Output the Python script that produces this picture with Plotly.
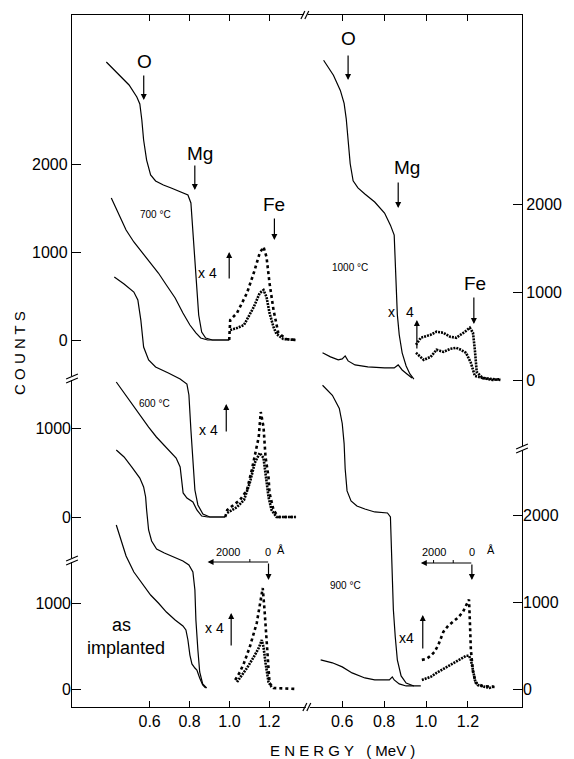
import plotly.graph_objects as go

# ---------------- data (energy in MeV, counts) ----------------
# 700 °C (left, top)
e700_r = [0.383,0.423,0.497,0.536,0.551,0.561,0.570,0.585,0.605,0.630,0.669,0.708,0.753,0.792,0.807,0.817,0.832,0.846,0.861,0.881,0.915,0.999]
c700_r = [3159,3068,2898,2761,2682,2500,2273,2045,1875,1807,1761,1727,1682,1648,1557,1216,648,284,91,23,0,0]
e700_a = [0.408,0.447,0.482,0.521,0.561,0.605,0.644,0.684,0.728,0.767,0.802,0.832,0.856,0.891,0.999]
c700_a = [1614,1420,1250,1114,1000,875,761,625,477,307,170,80,23,0,0]
e700_fe_r = [0.999,1.004,1.038,1.088,1.122,1.152,1.171,1.186,1.201,1.221,1.245,1.285,1.334]
c700_fe_r = [0,227,307,534,761,989,1057,943,648,341,80,11,0]
e700_fe_a = [1.004,1.038,1.073,1.102,1.122,1.152,1.171,1.186,1.201,1.221,1.236,1.270,1.334]
c700_fe_a = [114,136,170,284,375,534,568,489,307,148,68,11,0]

# 600 °C (left, middle)
e600_r = [0.423,0.472,0.521,0.541,0.556,0.570,0.595,0.630,0.694,0.753,0.787,0.797,0.807,0.817,0.827,0.842,0.867,0.902,0.979]
c600_r = [2697,2618,2528,2438,2213,1910,1764,1685,1618,1551,1494,1371,978,584,303,135,34,0,0]
e600_a = [0.433,0.472,0.511,0.556,0.595,0.634,0.679,0.718,0.733,0.753,0.768,0.787,0.817,0.837,0.861,0.891,0.979]
c600_a = [1517,1393,1281,1124,1011,899,787,697,663,562,270,213,169,79,11,0,0]
e600_fe_r = [0.979,0.989,1.053,1.088,1.112,1.127,1.147,1.157,1.171,1.181,1.196,1.201,1.221,1.245,1.334]
c600_fe_r = [0,79,191,303,528,674,899,1180,1011,674,449,270,79,0,0]
e600_fe_a = [0.989,1.038,1.073,1.102,1.127,1.152,1.171,1.181,1.196,1.211,1.236,1.334]
c600_fe_a = [45,112,191,382,607,719,663,494,225,79,0,0]

# as implanted (left, bottom)
eimp_r = [0.433,0.472,0.511,0.551,0.570,0.580,0.585,0.595,0.610,0.635,0.674,0.718,0.767,0.797,0.817,0.827,0.832,0.842,0.851,0.866,0.886]
cimp_r = [2779,2698,2581,2453,2349,2233,2081,1849,1721,1628,1581,1535,1488,1442,1360,1151,802,453,198,58,12]
eimp_a = [0.433,0.457,0.482,0.521,0.561,0.605,0.644,0.684,0.728,0.767,0.782,0.792,0.802,0.812,0.827,0.837,0.851,0.866,0.881]
cimp_a = [1907,1733,1547,1360,1233,1093,1000,895,802,733,686,570,395,291,244,221,128,47,12]
eimp_fe_r = [1.029,1.053,1.073,1.102,1.137,1.152,1.167,1.176,1.186,1.196,1.201,1.221,1.334]
cimp_fe_r = [105,198,302,488,767,1000,1174,919,605,337,70,12,0]
eimp_fe_a = [1.038,1.088,1.122,1.147,1.162,1.171,1.181,1.196,1.211]
cimp_fe_a = [81,244,372,477,570,488,302,81,23]

# 1000 °C (right, top)
e1000_r = [0.511,0.558,0.591,0.609,0.619,0.628,0.638,0.652,0.675,0.708,0.755,0.802,0.830,0.848,0.853,0.858,0.863,0.872,0.886,0.905,0.923,0.942]
c1000_r = [3634,3463,3291,3143,2971,2686,2457,2263,2183,2114,2023,1897,1760,1646,1371,1029,743,514,309,160,69,11]
e1000_a = [0.506,0.544,0.581,0.600,0.614,0.628,0.661,0.722,0.802,0.848,0.867,0.886,0.909,0.933]
c1000_a = [309,263,229,240,274,217,171,149,137,137,171,114,69,23]
e1000_fe_r = [0.952,0.975,1.022,1.050,1.083,1.116,1.144,1.167,1.186,1.209,1.224,1.233,1.242,1.270,1.317,1.355]
c1000_fe_r = [400,480,514,549,537,491,480,514,549,594,537,343,91,23,0,11]
e1000_fe_a = [0.952,0.989,1.022,1.050,1.083,1.116,1.144,1.167,1.191,1.214,1.233,1.270,1.317,1.355]
c1000_fe_a = [309,229,263,343,320,354,366,343,309,194,46,23,11,0]

# 900 °C (right, bottom)
e900_r = [0.506,0.553,0.586,0.600,0.609,0.614,0.623,0.642,0.670,0.708,0.755,0.816,0.830,0.834,0.839,0.844,0.853,0.863,0.881,0.905,0.942]
c900_r = [3491,3376,3225,3052,2821,2532,2277,2162,2104,2069,2035,2023,1977,1723,1260,913,601,335,150,69,35]
e900_a = [0.497,0.553,0.600,0.647,0.708,0.755,0.825,0.839,0.848,0.872,0.905,0.975]
c900_a = [335,301,254,185,127,104,104,139,104,58,35,35]
e900_fe_r = [0.980,1.003,1.022,1.041,1.059,1.083,1.106,1.130,1.153,1.177,1.195,1.205,1.209,1.214,1.224,1.238,1.270,1.327]
c900_fe_r = [335,347,382,428,509,659,728,775,821,890,983,1029,798,451,197,69,35,23]
e900_fe_a = [0.980,1.003,1.022,1.050,1.083,1.116,1.144,1.167,1.191,1.205,1.214,1.224,1.233,1.247,1.303,1.327]
c900_fe_a = [104,127,139,185,231,277,324,347,382,382,335,220,104,46,12,35]

energy_ticks = [0.6, 0.8, 1.0, 1.2]
energy_labels = ["0.6", "0.8", "1.0", "1.2"]

# ---------------- layout geometry (pixels) ----------------
W, H = 574, 759
L, R, T, B = 72, 530, 15, 707
XSPLIT = 311
FONT = "Liberation Sans, Arial, sans-serif"

def pxx(x):
    return (x - L) / (R - L)

def pxy(y):
    return (B - y) / (B - T)

def yrange(p0, p1000):
    k = (p0 - p1000) / 1000.0
    return [-(B - p0) / k, (p0 - T) / k]

fig = go.Figure()

def solid(x, y, xa, ya):
    fig.add_trace(go.Scatter(x=x, y=y, mode="lines", xaxis=xa, yaxis=ya,
                             line=dict(color="black", width=1.2), hoverinfo="skip",
                             showlegend=False))

def dotted(x, y, xa, ya, dense=False):
    fig.add_trace(go.Scatter(x=x, y=y, mode="lines", xaxis=xa, yaxis=ya,
                             line=dict(color="black", width=2.6,
                                       dash="2px,1px" if dense else "dot"),
                             hoverinfo="skip", showlegend=False))

solid(e700_r, c700_r, "x", "y"); solid(e700_a, c700_a, "x", "y")
dotted(e700_fe_r, c700_fe_r, "x", "y"); dotted(e700_fe_a, c700_fe_a, "x", "y", True)
solid(e600_r, c600_r, "x", "y2"); solid(e600_a, c600_a, "x", "y2")
dotted(e600_fe_r, c600_fe_r, "x", "y2"); dotted(e600_fe_a, c600_fe_a, "x", "y2", True)
solid(eimp_r, cimp_r, "x", "y3"); solid(eimp_a, cimp_a, "x", "y3")
dotted(eimp_fe_r, cimp_fe_r, "x", "y3"); dotted(eimp_fe_a, cimp_fe_a, "x", "y3", True)
solid(e1000_r, c1000_r, "x2", "y4"); solid(e1000_a, c1000_a, "x2", "y4")
dotted(e1000_fe_r, c1000_fe_r, "x2", "y4", True); dotted(e1000_fe_a, c1000_fe_a, "x2", "y4", True)
solid(e900_r, c900_r, "x2", "y5"); solid(e900_a, c900_a, "x2", "y5")
dotted(e900_fe_r, c900_fe_r, "x2", "y5"); dotted(e900_fe_a, c900_fe_a, "x2", "y5", True)

tickfont = dict(family=FONT, size=16, color="black")
xcommon = dict(tickvals=energy_ticks, ticktext=energy_labels, ticks="inside", ticklen=6,
               tickwidth=1.2, tickcolor="black", showline=True, linecolor="black",
               linewidth=1.3, mirror="ticks", showgrid=False, zeroline=False,
               tickfont=tickfont)
ycommon = dict(domain=[0, 1], ticks="inside", ticklen=9, tickwidth=1.2, tickcolor="black",
               showgrid=False, zeroline=False, linecolor="black", linewidth=1.3,
               tickfont=tickfont)
xs = (XSPLIT - L) / (R - L)

fig.update_layout(
    width=W, height=H, margin=dict(l=L, r=W - R, t=T, b=H - B),
    paper_bgcolor="white", plot_bgcolor="rgba(0,0,0,0)", showlegend=False,
    xaxis=dict(domain=[0, xs], range=[0.211, 1.388], anchor="y", **xcommon),
    xaxis2=dict(domain=[xs, 1], range=[0.431, 1.458], anchor="y4", **xcommon),
    yaxis=dict(anchor="x", range=yrange(340, 252), tickvals=[0, 1000, 2000],
               showline=True, **ycommon),
    yaxis2=dict(anchor="x", range=yrange(517, 428), tickvals=[0, 1000],
                showline=False, **ycommon),
    yaxis3=dict(anchor="x", range=yrange(689, 603), tickvals=[0, 1000],
                showline=False, **ycommon),
    yaxis4=dict(anchor="x2", side="right", range=yrange(380, 292), tickvals=[0, 1000, 2000],
                showline=True, **ycommon),
    yaxis5=dict(anchor="x2", side="right", range=yrange(689, 602), tickvals=[0, 1000, 2000],
                showline=False, **ycommon),
)

# ---------------- axis breaks ----------------
shapes = []

def seg(x0, y0, x1, y1, w=1.2):
    shapes.append(dict(type="line", xref="paper", yref="paper", x0=pxx(x0), y0=pxy(y0),
                       x1=pxx(x1), y1=pxy(y1), line=dict(color="black", width=w),
                       layer="above"))

def white(x0, y0, x1, y1):
    shapes.append(dict(type="rect", xref="paper", yref="paper", x0=pxx(x0), y0=pxy(y0),
                       x1=pxx(x1), y1=pxy(y1), line=dict(width=0), fillcolor="white",
                       layer="above"))

def vbreak(x, y):
    white(x - 2, y - 2, x + 2, y + 2)
    seg(x - 6, y + 1, x + 6, y - 4)
    seg(x - 6, y + 5, x + 6, y)

def hbreak(x, y):
    white(x - 2, y - 2, x + 2, y + 2)
    seg(x - 5, y + 4, x - 1, y - 4)
    seg(x - 1, y + 4, x + 3, y - 4)

vbreak(L, 378); vbreak(L, 560); vbreak(R, 448)
hbreak(310, T); hbreak(312, B)

# depth scale small ticks
for tx, ty in [(253, 562), (440, 563), (460, 563)]:
    seg(tx, ty, tx, ty - 3, 1)

fig.update_layout(shapes=shapes)

# ---------------- annotations ----------------
ann = []

def text(x, y, s, size, angle=0):
    ann.append(dict(x=pxx(x), y=pxy(y), xref="paper", yref="paper", text=s, showarrow=False,
                    xanchor="center", yanchor="middle", textangle=angle,
                    font=dict(family=FONT, size=size, color="black")))

def arrow(x0, y0, x1, y1, head=2):
    # from tail (x0,y0) to head (x1,y1), pixels
    ann.append(dict(x=pxx(x1), y=pxy(y1), xref="paper", yref="paper", text="",
                    showarrow=True, ax=x0 - x1, ay=y0 - y1, axref="pixel", ayref="pixel",
                    arrowhead=head, arrowsize=1, arrowwidth=1.2, arrowcolor="black"))

# left top
text(146, 61, "O", 19); arrow(145, 74, 145, 100)
text(202, 153, "Mg", 19); arrow(197, 164, 197, 190)
text(278, 204, "Fe", 19); arrow(278, 217, 278, 240)
text(157, 215, "700 °C", 10)
text(210, 273, "x 4", 14); arrow(232, 280, 232, 252)
# right top
text(353, 39, "O", 19); arrow(353, 54, 353, 80)
text(413, 168, "Mg", 19); arrow(404, 181, 404, 208)
text(355, 267, "1000 °C", 10)
text(482, 283, "Fe", 19); arrow(481, 296, 481, 324)
text(397, 312, "x", 14); text(416, 312, "4", 14); arrow(423, 350, 423, 320)
# left middle
text(156, 403, "600 °C", 10)
text(211, 430, "x 4", 14); arrow(229, 433, 229, 404)
# left bottom
text(231, 552, "2000", 11); text(271, 552, "0", 11); text(285, 550, "Å", 11)
arrow(272, 562, 210, 562); arrow(272, 562, 272, 580)
text(122, 625, "as", 18); text(127, 648, "implanted", 18)
text(217, 628, "x 4", 14); arrow(234, 647, 234, 613)
# right bottom
text(440, 552, "2000", 11); text(479, 552, "0", 11); text(498, 550, "Å", 11)
arrow(479, 563, 427, 563); arrow(479, 563, 479, 580)
text(350, 585, "900 °C", 10)
text(412, 638, "x4", 14); arrow(429, 650, 429, 615)
# axis titles
text(18, 353, "C O U N T S", 15, -90)
text(347, 750, "E N E R G Y   ( MeV )", 15)

fig.update_layout(annotations=ann)
fig.write_html("out.html")
